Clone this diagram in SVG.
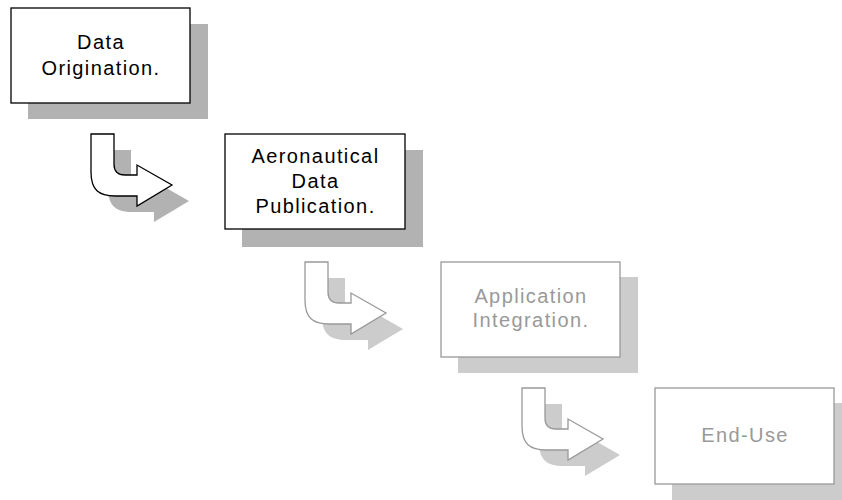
<svg xmlns="http://www.w3.org/2000/svg" width="842" height="500" viewBox="0 0 842 500">
  <style>
    .box { fill: #ffffff; stroke-width: 1.3; }
    .dark { stroke: #000000; }
    .light { stroke: #999999; }
    .shadow-dark { fill: #b2b2b2; }
    .shadow-light { fill: #cccccc; }
    .label { font-family: "Liberation Sans", Arial, sans-serif; font-size: 20px; letter-spacing: 1.4px; text-anchor: middle; }
    .label-dark { fill: #000000; }
    .label-light { fill: #999999; }
    .arrow { fill: #ffffff; stroke-width: 1.3; stroke-linejoin: miter; }
  </style>
  <defs>
    <!-- bent "down then right" arrow, drawn from its top-left corner -->
    <path id="bend" d="M0,0 H23 V30 Q23,41 34,41 H46 V31 L81,51 L46,72 V62 H24 C8,62 0,56 0,38 Z"/>
  </defs>

  <!-- connectors -->
  <g id="connectors">
    <g id="arrow-1" transform="translate(91,134)">
      <use href="#bend" class="shadow-dark" transform="translate(17,16)"/>
      <use href="#bend" class="arrow dark"/>
    </g>
    <g id="arrow-2" transform="translate(305,262)">
      <use href="#bend" class="shadow-light" transform="translate(17,16)"/>
      <use href="#bend" class="arrow light"/>
    </g>
    <g id="arrow-3" transform="translate(522,388)">
      <use href="#bend" class="shadow-light" transform="translate(17,16)"/>
      <use href="#bend" class="arrow light"/>
    </g>
  </g>

  <!-- stages -->
  <g id="data-origination">
    <rect class="shadow-dark" x="28" y="24" width="180" height="95"/>
    <rect class="box dark" x="11" y="8" width="179" height="95"/>
    <text class="label label-dark" x="101" y="49">Data</text>
    <text class="label label-dark" x="101" y="75">Origination.</text>
  </g>

  <g id="aeronautical-data-publication">
    <rect class="shadow-dark" x="242" y="150" width="181" height="97"/>
    <rect class="box dark" x="225" y="134" width="180" height="95"/>
    <text class="label label-dark" x="315.5" y="163">Aeronautical</text>
    <text class="label label-dark" x="315.5" y="188">Data</text>
    <text class="label label-dark" x="315.5" y="213">Publication.</text>
  </g>

  <g id="application-integration">
    <rect class="shadow-light" x="458" y="277" width="180" height="96"/>
    <rect class="box light" x="441" y="262" width="179" height="95"/>
    <text class="label label-light" x="531" y="303">Application</text>
    <text class="label label-light" x="531" y="327">Integration.</text>
  </g>

  <g id="end-use">
    <rect class="shadow-light" x="672" y="403" width="180" height="97"/>
    <rect class="box light" x="655" y="388" width="179" height="96"/>
    <text class="label label-light" x="745" y="442">End-Use</text>
  </g>
</svg>
